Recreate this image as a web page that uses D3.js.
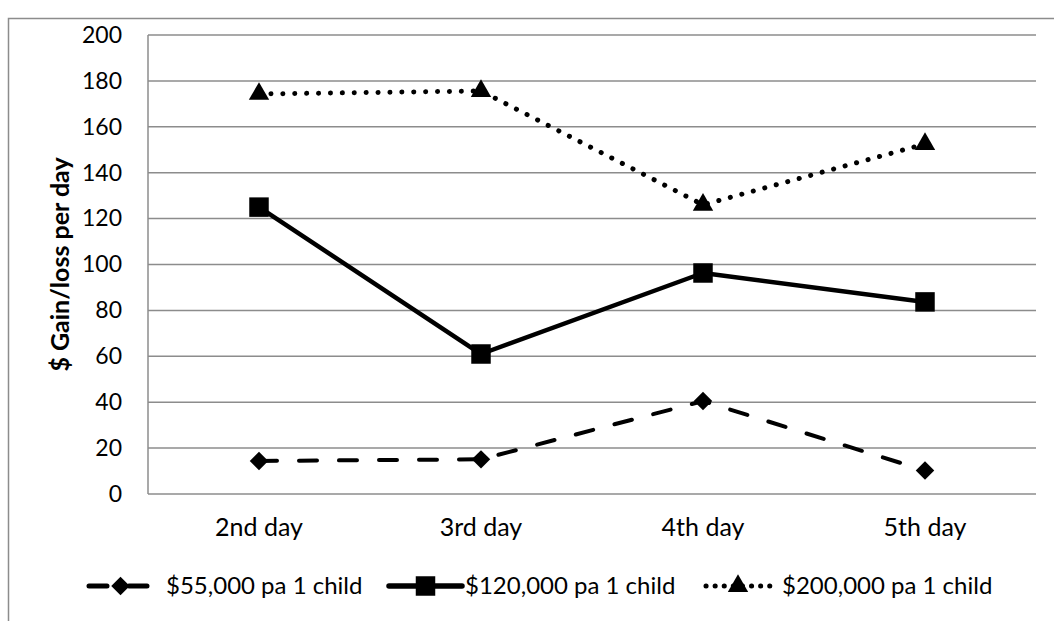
<!DOCTYPE html>
<html>
<head>
<meta charset="utf-8">
<script src="https://cdn.jsdelivr.net/npm/d3@7"></script>
<style>
  html, body { margin: 0; padding: 0; background: #fff; }
  svg { display: block; font-family: Lato, "Open Sans", sans-serif; }
</style>
</head>
<body>
<svg id="chart" width="1054" height="621"></svg>
<script>
// Days and daily gain/loss for each income level
const days = ["2nd day", "3rd day", "4th day", "5th day"];
const income55k = [14.4, 15.1, 40.5, 10.2];
const income120k = [125, 61, 96.3, 83.7];
const income200k = [174.3, 175.6, 126, 152.5];
const yTicks = [0, 20, 40, 60, 80, 100, 120, 140, 160, 180, 200];
const seriesNames = ["$55,000 pa 1 child", "$120,000 pa 1 child", "$200,000 pa 1 child"];

// diamond drawn as a square turned 45 degrees
const rotatedSquare = {
  draw(ctx, size) {
    const r = Math.sqrt(size / 2);
    ctx.moveTo(0, -r); ctx.lineTo(r, 0); ctx.lineTo(0, r); ctx.lineTo(-r, 0); ctx.closePath();
  }
};

const series = [
  { name: seriesNames[0], values: income55k, dash: "18,22", legendDash: "18,22", marker: rotatedSquare, size: 170, width: 4 },
  { name: seriesNames[1], values: income120k, dash: null, legendDash: null, marker: d3.symbolSquare, size: 380, width: 4.5 },
  { name: seriesNames[2], values: income200k, dash: "0.1,11.8", legendDash: "0.1,9", marker: d3.symbolTriangle, size: 180, width: 5 }
];

const svg = d3.select("#chart");
const plotLeft = 148, plotRight = 1036, plotTop = 35, plotBottom = 494;
const grid = "#8c8c8c";

// outer chart frame
svg.append("path")
  .attr("d", "M8.5,621 V18.5 H1054")
  .attr("fill", "none").attr("stroke", grid).attr("stroke-width", 1.5);

const x = d3.scaleBand().domain(days).range([plotLeft, plotRight]);
const y = d3.scaleLinear().domain([0, 200]).range([plotBottom, plotTop]);

// horizontal gridlines
svg.append("g").selectAll("line").data(yTicks).join("line")
  .attr("x1", plotLeft).attr("x2", plotRight)
  .attr("y1", d => y(d)).attr("y2", d => y(d))
  .attr("stroke", grid).attr("stroke-width", 1.5);

// value axis line
svg.append("line")
  .attr("x1", plotLeft).attr("x2", plotLeft).attr("y1", plotTop).attr("y2", plotBottom)
  .attr("stroke", grid).attr("stroke-width", 1.5);

// y tick labels
const yAxis = d3.axisLeft(y).tickValues(yTicks).tickSize(0).tickPadding(26);
const gy = svg.append("g").attr("transform", `translate(${plotLeft},0)`).call(yAxis);
gy.select(".domain").remove();
gy.selectAll("text").attr("font-size", 23).attr("font-family", "Lato").attr("fill", "#000");

// x category labels
const xAxis = d3.axisBottom(x).tickSize(0).tickPadding(24);
const gx = svg.append("g").attr("transform", `translate(0,${plotBottom})`).call(xAxis);
gx.select(".domain").remove();
gx.selectAll("text").attr("font-size", 25).attr("font-family", "Lato").attr("fill", "#000");

// y axis title
svg.append("text")
  .attr("transform", `translate(69,${(plotTop + plotBottom) / 2}) rotate(-90)`)
  .attr("text-anchor", "middle")
  .attr("font-size", 25).attr("font-weight", "bold").attr("font-family", "Lato")
  .text("$ Gain/loss per day");

const cx = d => x(d) + x.bandwidth() / 2;
const line = d3.line().x((d, i) => cx(days[i])).y(d => y(d));

series.forEach(s => {
  svg.append("path")
    .attr("d", line(s.values))
    .attr("fill", "none").attr("stroke", "#000")
    .attr("stroke-width", s.width)
    .attr("stroke-linecap", s.dash ? "round" : "butt")
    .attr("stroke-linejoin", "round")
    .attr("stroke-dasharray", s.dash);
  svg.append("g").selectAll("path").data(s.values).join("path")
    .attr("transform", (d, i) => `translate(${cx(days[i])},${y(d)})`)
    .attr("d", d3.symbol().type(s.marker).size(s.size))
    .attr("fill", "#000");
});

// legend
const legendY = 586;
const legendItems = [
  { x0: 89, x1: 152, tx: 166 },
  { x0: 389, x1: 462, tx: 465 },
  { x0: 706, x1: 770, tx: 782 }
];
series.forEach((s, i) => {
  const it = legendItems[i];
  const g = svg.append("g");
  g.append("line")
    .attr("x1", it.x0).attr("x2", it.x1).attr("y1", legendY).attr("y2", legendY)
    .attr("stroke", "#000").attr("stroke-width", s.width + (i === 2 ? 0 : 1))
    .attr("stroke-linecap", "round")
    .attr("stroke-dasharray", s.legendDash);
  g.append("path")
    .attr("transform", `translate(${(it.x0 + it.x1) / 2},${legendY})`)
    .attr("d", d3.symbol().type(s.marker).size(s.size))
    .attr("fill", "#000");
  g.append("text")
    .attr("x", it.tx).attr("y", legendY).attr("dy", "0.35em")
    .attr("font-size", 24).attr("font-family", "Lato")
    .text(s.name);
});
</script>
</body>
</html>
